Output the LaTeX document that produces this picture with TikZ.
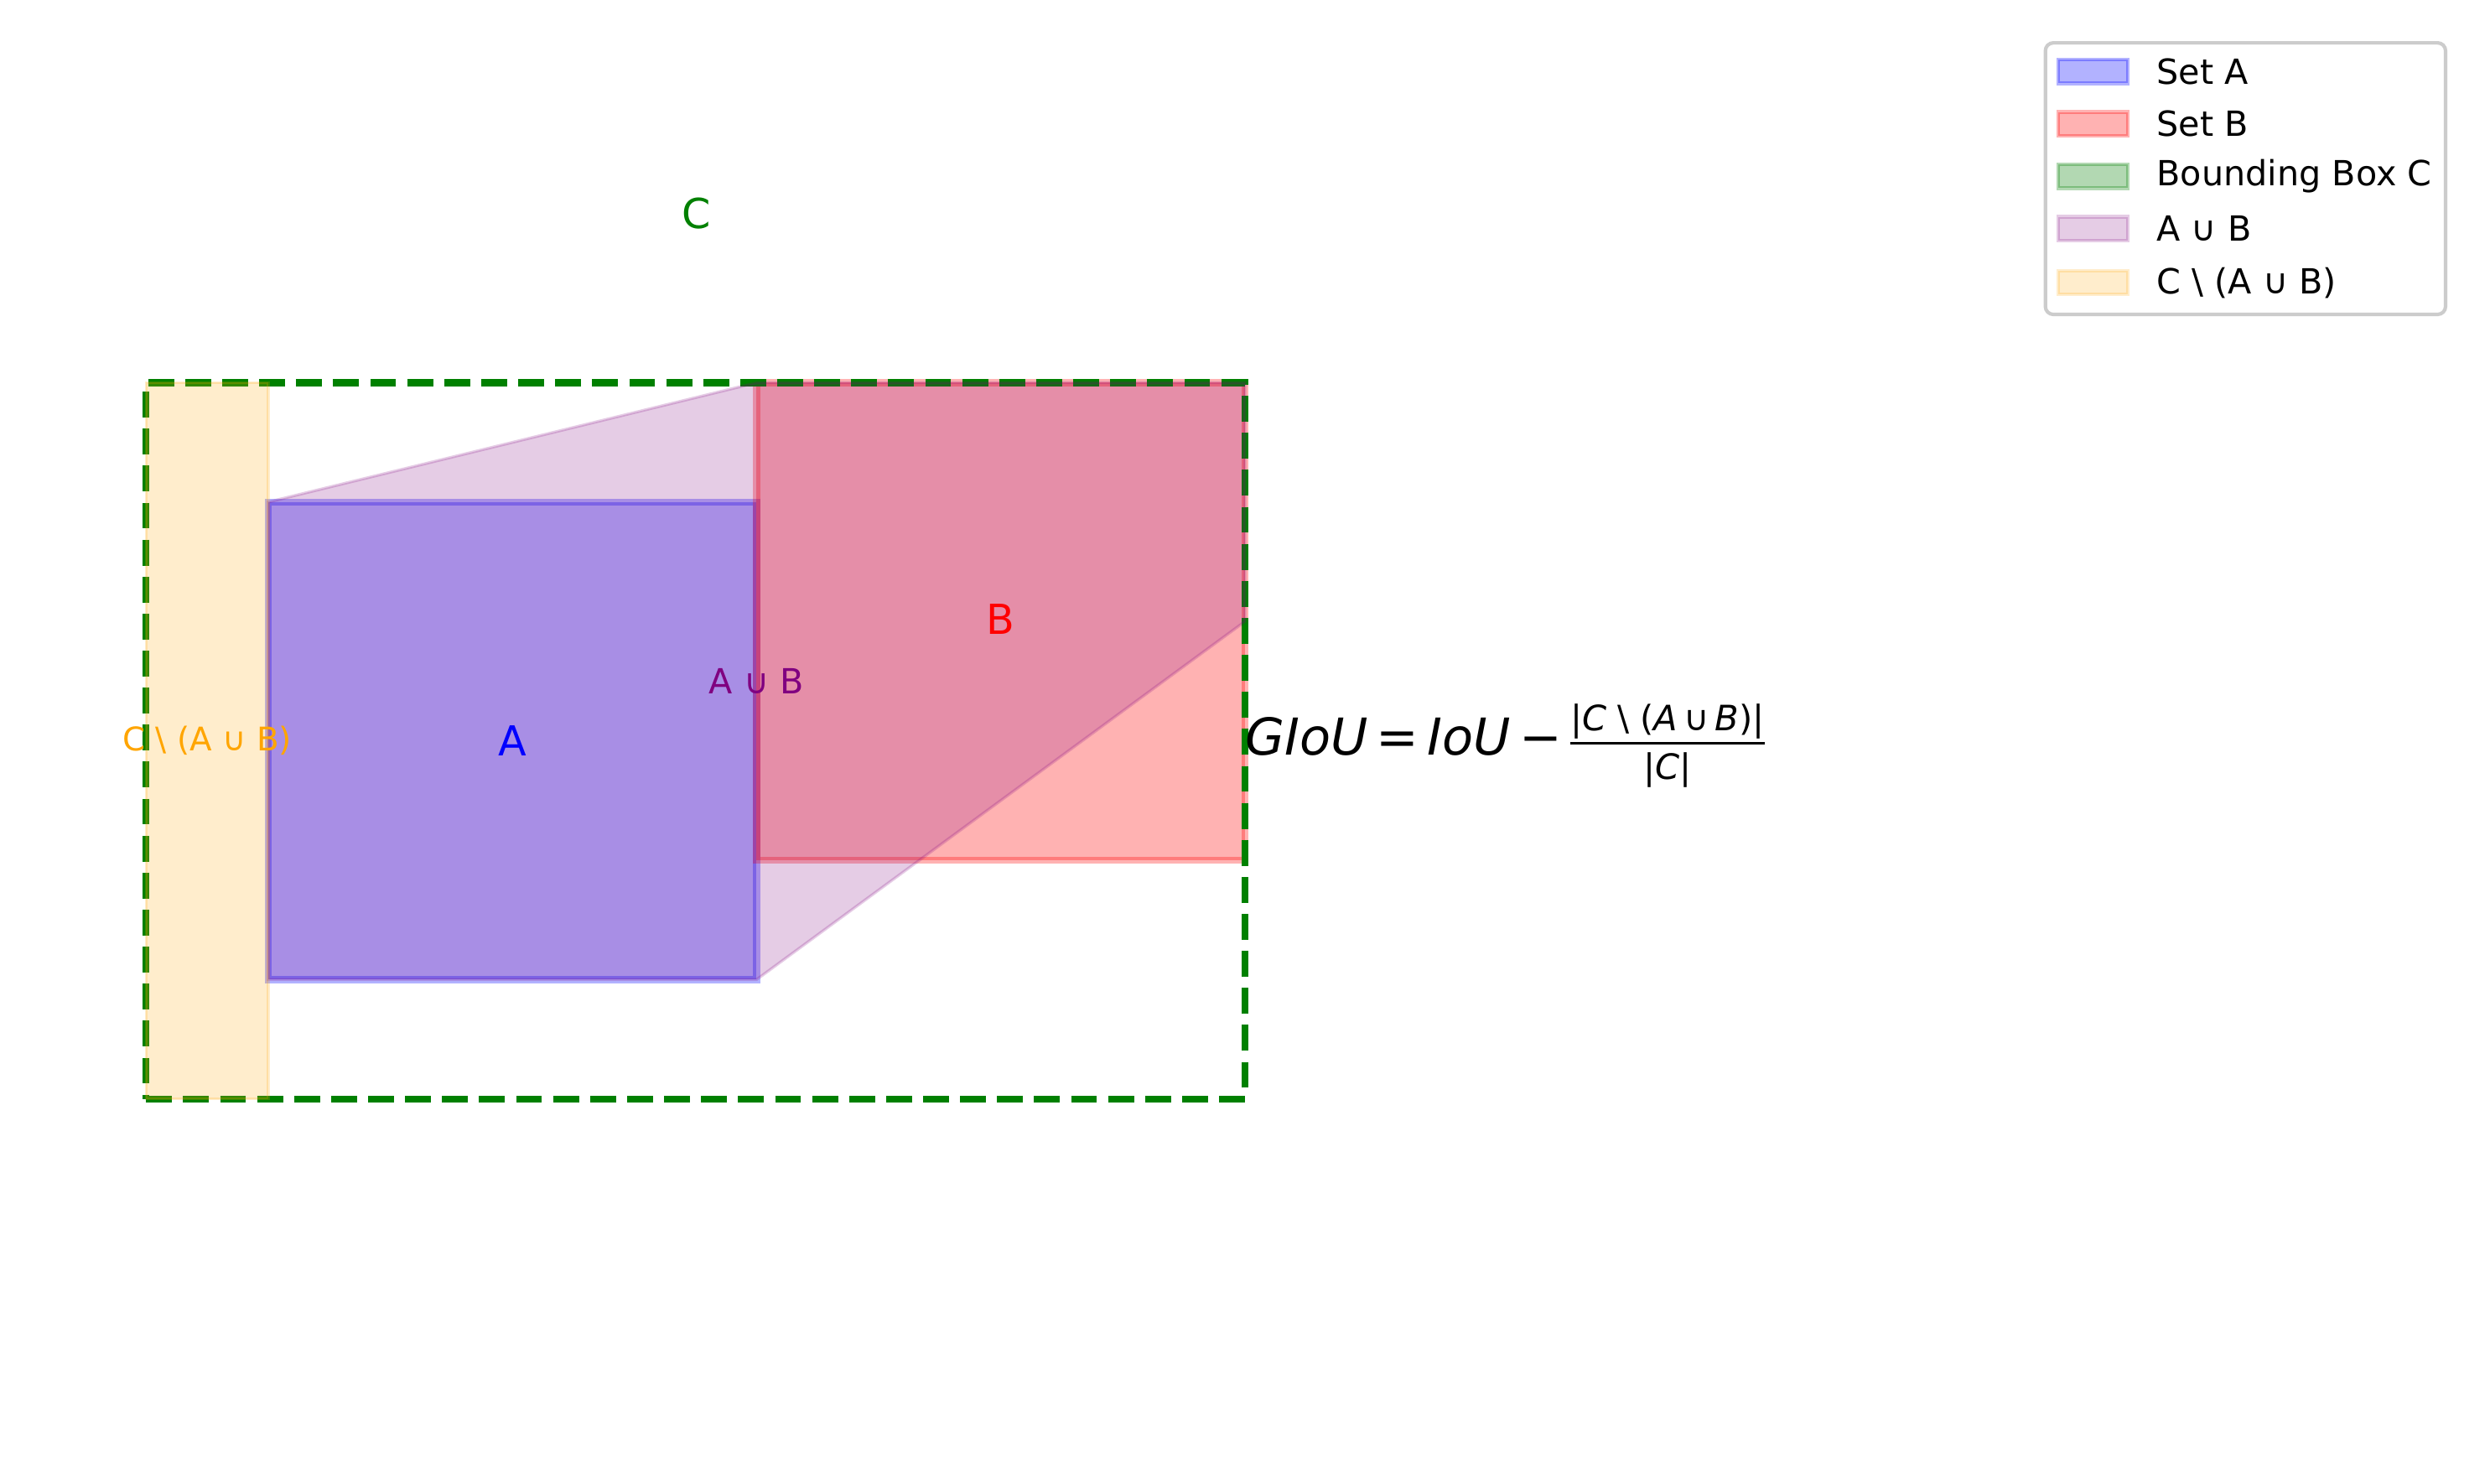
\documentclass[tikz,border=0pt]{standalone}
\usepackage{fontspec}
\setmainfont{DejaVu Sans}
\definecolor{mgreen}{RGB}{0,128,0}
\definecolor{mpurple}{RGB}{128,0,128}
\definecolor{morange}{RGB}{255,165,0}
\definecolor{mblue}{RGB}{0,0,255}
\definecolor{mred}{RGB}{255,0,0}
\definecolor{legframe}{RGB}{204,204,204}
\newcommand{\gfrac}[2]{\setlength{\arrayrulewidth}{1.7pt}\renewcommand{\arraystretch}{1.0}\begin{tabular}{@{}c@{}}#1\\[-1pt]\hline\rule{0pt}{22pt}#2\end{tabular}}
\tikzset{
  setA/.style={fill=mblue, fill opacity=0.3, draw=mblue, draw opacity=0.3, line width=4.4pt},
  setB/.style={fill=mred, fill opacity=0.3, draw=mred, draw opacity=0.3, line width=4.4pt},
  unionAB/.style={fill=mpurple, fill opacity=0.2, draw=mpurple, draw opacity=0.2, line width=1.8pt},
  diffC/.style={fill=morange, fill opacity=0.2, draw=morange, draw opacity=0.2, line width=1.8pt},
  legA/.style={fill=mblue, fill opacity=0.3, draw=mblue, draw opacity=0.3, line width=2.2pt},
  legB/.style={fill=mred, fill opacity=0.3, draw=mred, draw opacity=0.3, line width=2.2pt},
  legC/.style={fill=mgreen, fill opacity=0.3, draw=mgreen, draw opacity=0.3, line width=2.2pt},
  legU/.style={fill=mpurple, fill opacity=0.2, draw=mpurple, draw opacity=0.2, line width=2.2pt},
  legD/.style={fill=morange, fill opacity=0.2, draw=morange, draw opacity=0.2, line width=2.2pt},
  bboxC/.style={draw=mgreen, line width=4.4pt, dash pattern=on 16.3pt off 7pt},
  biglabel/.style={inner sep=0pt, font=\fontsize{26}{30}\selectfont},
  smalllabel/.style={inner sep=0pt, font=\fontsize{21.8}{26}\selectfont},
  legtext/.style={anchor=west, inner sep=0pt, font=\fontsize{21.8}{26}\selectfont, text=black},
}
\begin{document}
\begin{tikzpicture}[x=1pt,y=1pt]
\useasboundingbox (0,0) rectangle (1568,934);
\fill[white] (0,0) rectangle (1568,934);
\begin{scope}[shift={(92,242)}, x=76.89pt, y=75.17pt]
  \path[setA] (1,1) -- (5,1) -- (5,5) -- (1,5) -- cycle;
  \path[setB] (5,2) -- (9,2) -- (9,6) -- (5,6) -- cycle;
  \draw[bboxC] (0,0) -- (9,0) -- (9,6) -- (0,6) -- cycle;
  \path[unionAB] (1,1) -- (1,5) -- (5,6) -- (9,6) -- (9,4) -- (5,1) -- cycle;
  \path[diffC] (0,0) -- (1,0) -- (1,6) -- (0,6) -- cycle;
  \node[biglabel, text=mgreen] (labC) at (4.51,7.42) {C};
  \node[biglabel, text=mblue] (labA) at (3,3) {A};
  \node[biglabel, text=mred] (labB) at (7,4.02) {B};
  \node[smalllabel, text=mpurple] (labU) at (5,3.5) {A ∪ B};
  \node[smalllabel, text=morange, font=\fontsize{20.5}{24}\selectfont] (labD) at (0.5,3) {C \textbackslash\ (A ∪ B)};
  \node[anchor=west, inner sep=0pt, font=\fontsize{32}{38}\selectfont] (formula) at (9,2.95)
    {\textit{GIoU}\,=\,\textit{IoU}\,−\,\fontsize{22}{26}\selectfont\gfrac{|\textit{C}\ \textbackslash\ (\textit{A}\,∪\,\textit{B})|}{|\textit{C}|}};
\end{scope}
% legend
\draw[legframe, line width=2.2pt, rounded corners=5pt, fill=white, fill opacity=0.8] (1288,907) rectangle (1540,736);
\path[legA] (1296,881.5) rectangle (1340,896.5);
\path[legB] (1296,848.5) rectangle (1340,863.5);
\path[legC] (1296,815.5) rectangle (1340,830.5);
\path[legU] (1296,782.5) rectangle (1340,797.5);
\path[legD] (1296,748.5) rectangle (1340,763.5);
\node[legtext] (legA) at (1358,889) {Set A};
\node[legtext] (legB) at (1358,856) {Set B};
\node[legtext] (legC) at (1358,823) {Bounding Box C};
\node[legtext] (legU) at (1358,790) {A ∪ B};
\node[legtext] (legD) at (1358,756) {C \textbackslash\ (A ∪ B)};
\end{tikzpicture}
\end{document}
